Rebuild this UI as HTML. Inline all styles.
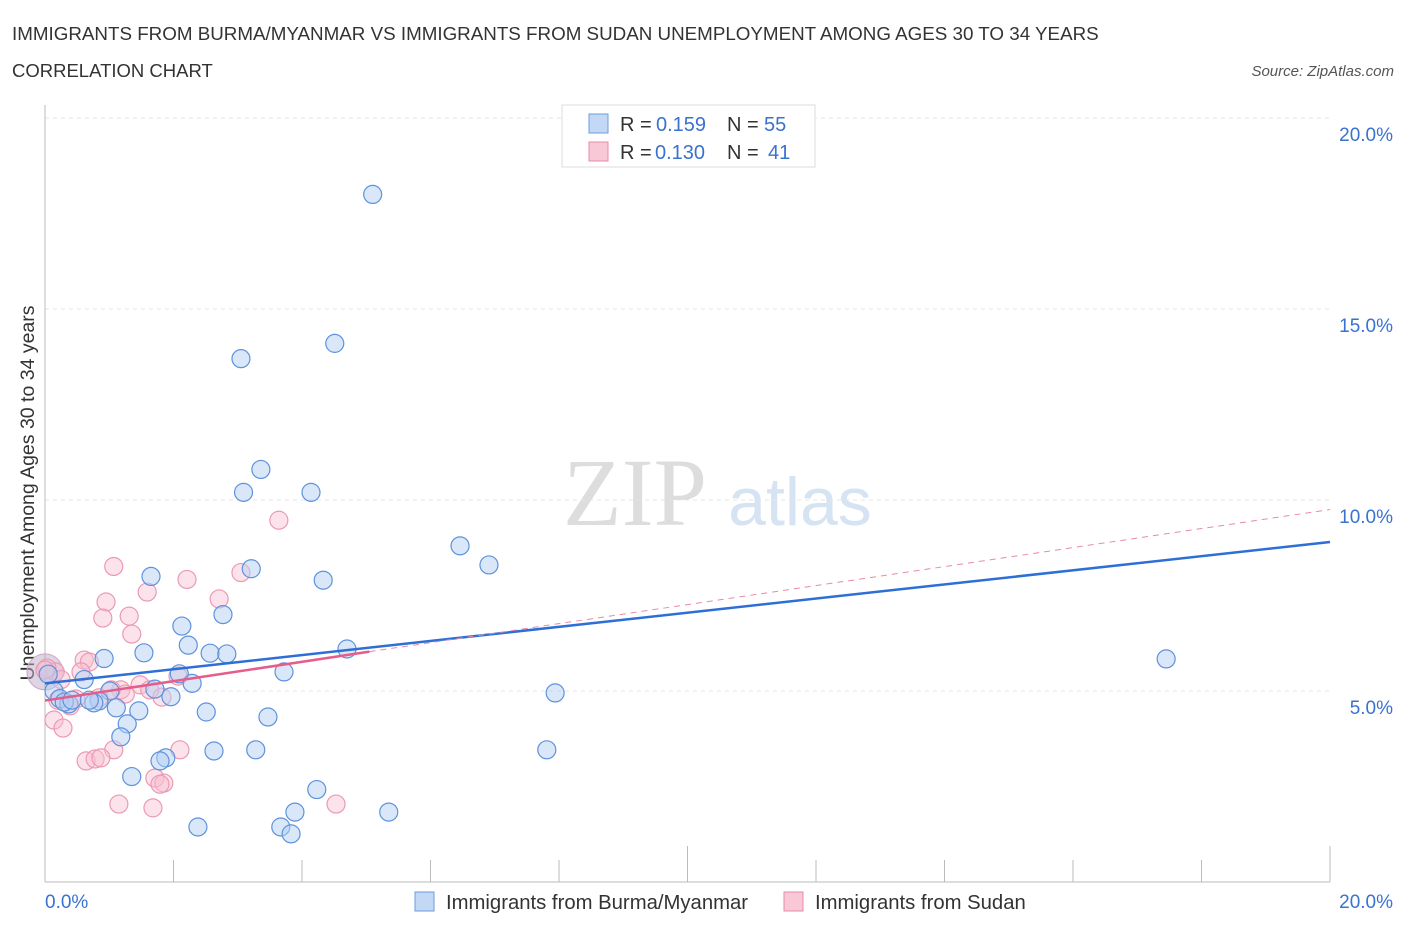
<!DOCTYPE html>
<html><head><meta charset="utf-8"><style>
body{margin:0;background:#fff;font-family:"Liberation Sans",sans-serif}
svg{display:block}
</style></head><body>
<svg width="1406" height="930">
<text x="12" y="40" font-size="18.8" fill="#333">IMMIGRANTS FROM BURMA/MYANMAR VS IMMIGRANTS FROM SUDAN UNEMPLOYMENT AMONG AGES 30 TO 34 YEARS</text>
<text x="12" y="77" font-size="18.5" fill="#333">CORRELATION CHART</text>
<text x="1394" y="76" font-size="15" fill="#555" font-style="italic" text-anchor="end">Source: ZipAtlas.com</text>
<text x="635" y="525" font-size="96" fill="#ddd" font-family="Liberation Serif,serif" text-anchor="middle">ZIP</text>
<text x="800" y="525" font-size="68" fill="#d5e3f3" text-anchor="middle">atlas</text>
<g id="grid"></g>
<g id="axes"></g>
<text transform="translate(34,493) rotate(-90)" font-size="19.5" fill="#333" text-anchor="middle">Unemployment Among Ages 30 to 34 years</text>
<g id="marks"></g>
<g>
<rect x="562" y="105" width="253" height="62" fill="#fff" stroke="#ddd"/>
<rect x="589" y="114" width="19" height="19" fill="#c3d8f5" stroke="#6d9be0"/>
<rect x="589" y="142" width="19" height="19" fill="#f9c8d6" stroke="#e88aa8"/>
<text x="620" y="131" font-size="20" fill="#333">R =</text>
<text x="656" y="131" font-size="20" fill="#3a72d0">0.159</text>
<text x="727" y="131" font-size="20" fill="#333">N =</text>
<text x="764" y="131" font-size="20" fill="#3a72d0">55</text>
<text x="620" y="159" font-size="20" fill="#333">R =</text>
<text x="655" y="159" font-size="20" fill="#3a72d0">0.130</text>
<text x="727" y="159" font-size="20" fill="#333">N =</text>
<text x="768" y="159" font-size="20" fill="#3a72d0">41</text>
</g>
<g>
<rect x="415" y="892" width="19" height="19" fill="#c3d8f5" stroke="#6d9be0"/>
<text x="446" y="909" font-size="20.3" fill="#333">Immigrants from Burma/Myanmar</text>
<rect x="784" y="892" width="19" height="19" fill="#f9c8d6" stroke="#e88aa8"/>
<text x="815" y="909" font-size="20.3" fill="#333">Immigrants from Sudan</text>
</g>
</svg>
<script>
const yTicks=[5,10,15,20];
const xTickLabels=["0.0%","20.0%"];
const burmaX=[5.1,4.51,3.05,3.36,3.09,4.14,6.46,6.91,3.21,1.65,4.33,2.77,2.13,4.7,2.23,1.54,2.57,2.83,0.92,17.45,0.61,2.09,3.72,2.29,1.71,1.01,1.96,7.94,0.14,0.23,0.84,0.76,0.37,1.11,1.46,2.51,3.47,1.28,1.18,7.81,2.63,3.28,1.88,1.79,1.35,4.23,3.89,5.35,2.38,3.67,3.83,0.05,0.3,0.42,0.69];
const burmaY=[18.0,14.1,13.7,10.8,10.2,10.2,8.8,8.3,8.2,8.0,7.9,7.0,6.7,6.1,6.2,6.0,5.99,5.97,5.85,5.84,5.3,5.45,5.5,5.2,5.05,5.0,4.85,4.95,5.0,4.8,4.74,4.69,4.66,4.56,4.48,4.45,4.32,4.14,3.8,3.46,3.43,3.46,3.25,3.17,2.76,2.42,1.83,1.83,1.44,1.44,1.26,5.44,4.71,4.76,4.76];
const sudanX=[3.64,1.07,2.21,3.05,1.59,2.71,0.95,1.31,0.9,1.35,0.61,0.69,0.56,0.16,0.03,2.07,1.48,1.63,1.18,1.25,1.03,1.82,0.48,0.39,0.2,0.84,0.14,0.28,2.1,1.07,0.64,0.78,0.87,1.71,1.85,1.79,1.15,1.68,4.53,0.0,0.25];
const sudanY=[9.47,8.26,7.92,8.1,7.59,7.41,7.33,6.96,6.91,6.49,5.81,5.76,5.5,5.5,5.6,5.39,5.16,5.03,5.03,4.92,5.03,4.84,4.79,4.61,4.76,4.82,4.24,4.03,3.46,3.46,3.17,3.22,3.25,2.72,2.59,2.56,2.04,1.94,2.04,5.55,5.3];
const burmaTrend=[[0,5.2],[20,8.9]];
const sudanTrend=[[0,4.75],[5.05,6.03],[20,9.75]];
const X0=45,X1=1330,Y0=882,Y20=118;
const xs=v=>X0+v*(X1-X0)/20, ys=v=>Y0-v*(Y0-Y20)/20;
const NS="http://www.w3.org/2000/svg";
function mk(tag,at,parent){const e=document.createElementNS(NS,tag);for(const k in at)e.setAttribute(k,at[k]);document.getElementById(parent).appendChild(e);return e;}
yTicks.forEach(t=>{
 const l=mk('line',{x1:X0,x2:X1,y1:ys(t),y2:ys(t),stroke:'#e4e4e4','stroke-dasharray':'4,4'},'grid');
 
 
 const tx=mk('text',{x:1393,y:ys(t)+23,'font-size':19,fill:'#3a72d0','text-anchor':'end'},'grid');
 tx.textContent=t.toFixed(1)+'%';
 
 
});
const ax=mk('line',{x1:X0,x2:X0,y1:105,y2:Y0,stroke:'#bbb'},'axes');


const bx=mk('line',{x1:X0,x2:X1,y1:Y0,y2:Y0,stroke:'#bbb'},'axes');


for(let i=0;i<=10;i++){const t=mk('line',{x1:xs(i*2),x2:xs(i*2),y1:Y0,y2:i%5==0?Y0-36:Y0-22,stroke:'#bbb'},'axes');
 
 }
xTickLabels.forEach((s,i)=>{const t=mk('text',{x:i?1393:45,y:908,'font-size':19,fill:'#3a72d0','text-anchor':i?'end':'start'},'axes');t.textContent=s;
 
 });
const big=mk('circle',{cx:xs(0),cy:ys(5.5),r:18,fill:'rgba(190,170,200,0.5)',stroke:'#c9a8c2'},'marks');


sudanX.forEach((x,i)=>{const c=mk('circle',{cx:xs(x),cy:ys(sudanY[i]),r:9,fill:'rgba(248,190,208,0.45)',stroke:'#eb9ab4','stroke-width':1.2},'marks');
 
 });
burmaX.forEach((x,i)=>{const c=mk('circle',{cx:xs(x),cy:ys(burmaY[i]),r:9,fill:'rgba(180,208,243,0.5)',stroke:'#5e92dc','stroke-width':1.2},'marks');
 
 });
const bl=mk('line',{x1:xs(burmaTrend[0][0]),y1:ys(burmaTrend[0][1]),x2:xs(burmaTrend[1][0]),y2:ys(burmaTrend[1][1]),stroke:'#2d6fd6','stroke-width':2.5},'marks');


const sl=mk('line',{x1:xs(sudanTrend[0][0]),y1:ys(sudanTrend[0][1]),x2:xs(sudanTrend[1][0]),y2:ys(sudanTrend[1][1]),stroke:'#e65c8a','stroke-width':2.5},'marks');


const sd=mk('line',{x1:xs(sudanTrend[1][0]),y1:ys(sudanTrend[1][1]),x2:xs(sudanTrend[2][0]),y2:ys(sudanTrend[2][1]),stroke:'#e88aa8','stroke-width':1,'stroke-dasharray':'6,5'},'marks');


</script>
</body></html>
